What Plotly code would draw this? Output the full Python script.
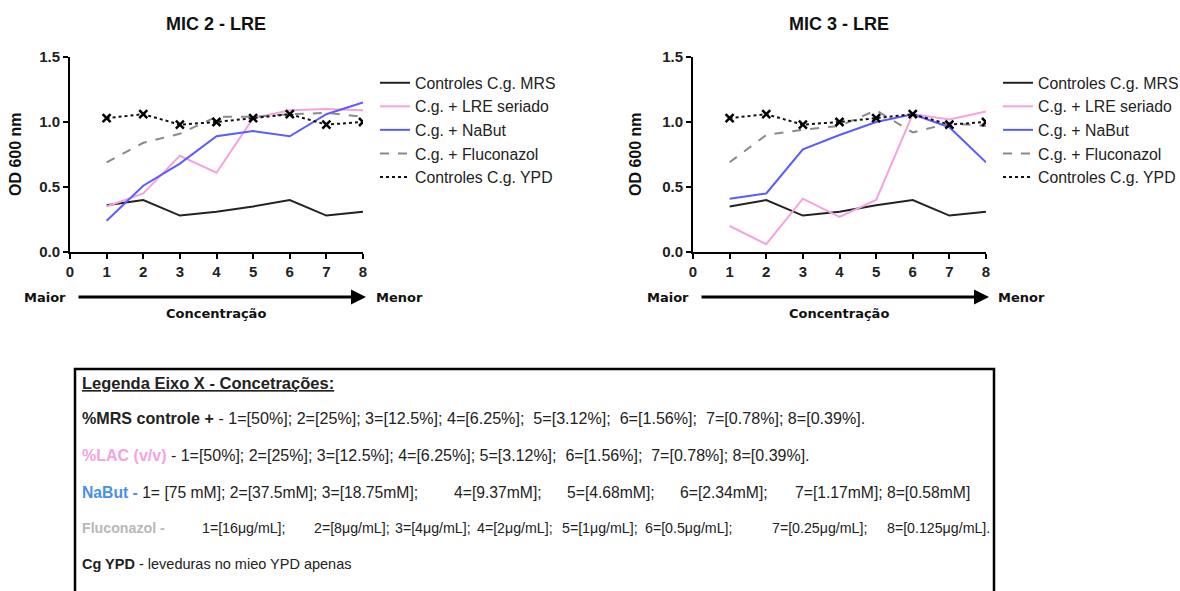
import plotly.graph_objects as go

W, H = 1180, 591

conc = [1, 2, 3, 4, 5, 6, 7, 8]
series_names = ["Controles C.g. MRS", "C.g. + LRE seriado", "C.g. + NaBut",
                "C.g. + Fluconazol", "Controles C.g. YPD"]

# MIC 2 - LRE
mic2_mrs = [0.36, 0.40, 0.28, 0.31, 0.35, 0.40, 0.28, 0.31]
mic2_lre = [0.35, 0.45, 0.74, 0.61, 1.03, 1.09, 1.10, 1.09]
mic2_nabut = [0.24, 0.51, 0.68, 0.89, 0.93, 0.89, 1.06, 1.15]
mic2_fluco = [0.69, 0.84, 0.91, 1.04, 1.04, 1.06, 1.07, 1.04]
mic2_ypd = [1.03, 1.06, 0.98, 1.00, 1.03, 1.06, 0.98, 1.00]

# MIC 3 - LRE
mic3_mrs = [0.35, 0.40, 0.28, 0.31, 0.36, 0.40, 0.28, 0.31]
mic3_lre = [0.20, 0.06, 0.41, 0.27, 0.40, 1.06, 1.02, 1.08]
mic3_nabut = [0.41, 0.45, 0.79, 0.90, 1.00, 1.06, 0.96, 0.69]
mic3_fluco = [0.69, 0.90, 0.94, 0.97, 1.09, 0.92, 0.99, 0.97]
mic3_ypd = [1.03, 1.06, 0.98, 1.00, 1.03, 1.06, 0.98, 1.00]

# X-axis concentration legend texts
nabut_items = ["1= [75 mM]; 2=[37.5mM]; 3=[18.75mM];", "4=[9.37mM];", "5=[4.68mM];",
               "6=[2.34mM];", "7=[1.17mM]; 8=[0.58mM]"]
fluco_items = ["1=[16μg/mL];", "2=[8μg/mL];", "3=[4μg/mL];", "4=[2μg/mL];", "5=[1μg/mL];",
               "6=[0.5μg/mL];", "7=[0.25μg/mL];", "8=[0.125μg/mL]."]

colors = ["#222222", "#f4a3e0", "#5a5cff", "#8a8a8a", "#111111"]
dashes = ["solid", "solid", "solid", "dash", "dot"]

FONT = "Liberation Sans, Arial, sans-serif"

def px(x):
    return x / W

def py(y):
    return 1 - y / H

fig = go.Figure()

panels = [
    ("x", "y", "legend", [mic2_mrs, mic2_lre, mic2_nabut, mic2_fluco, mic2_ypd]),
    ("x2", "y2", "legend2", [mic3_mrs, mic3_lre, mic3_nabut, mic3_fluco, mic3_ypd]),
]

for xa, ya, lg, data in panels:
    for i, (name, vals) in enumerate(zip(series_names, data)):
        fig.add_trace(go.Scatter(
            x=conc, y=vals, mode="lines", name=name,
            line=dict(color=colors[i], width=2, dash=dashes[i]),
            xaxis=xa, yaxis=ya, legend=lg,
        ))
    fig.add_trace(go.Scatter(
        x=conc, y=data[4], mode="markers", showlegend=False,
        marker=dict(symbol="x-thin", size=8, color="black",
                    line=dict(color="black", width=2.5)),
        xaxis=xa, yaxis=ya, hoverinfo="skip",
    ))

axis_common = dict(showline=True, linecolor="black", linewidth=2, ticks="outside",
                   ticklen=5, tickwidth=2, tickcolor="black", showgrid=False,
                   zeroline=False, automargin=False,
                   tickfont=dict(family=FONT, size=15, color="#222", weight="bold"))

yd = [py(252), py(57)]
fig.update_layout(
    width=W, height=H,
    margin=dict(l=0, r=0, t=0, b=0, autoexpand=False),
    paper_bgcolor="white", plot_bgcolor="white",
    xaxis=dict(domain=[px(70), px(363)], range=[0, 8], dtick=1, anchor="y", **axis_common),
    yaxis=dict(domain=yd, range=[0, 1.5], dtick=0.5, tickformat=".1f", anchor="x", **axis_common),
    xaxis2=dict(domain=[px(693), px(986)], range=[0, 8], dtick=1, anchor="y2", **axis_common),
    yaxis2=dict(domain=yd, range=[0, 1.5], dtick=0.5, tickformat=".1f", anchor="x2", **axis_common),
    legend=dict(x=px(375), y=py(66), xanchor="left", yanchor="top", itemwidth=30,
                font=dict(family=FONT, size=15.8, color="#222"), tracegroupgap=0,
                bgcolor="rgba(0,0,0,0)"),
    legend2=dict(x=px(998), y=py(66), xanchor="left", yanchor="top", itemwidth=30,
                 font=dict(family=FONT, size=15.8, color="#222"), tracegroupgap=0,
                 bgcolor="rgba(0,0,0,0)"),
)

ann = []
shapes = []
for cx, label, ax0, ax1, maior_x, menor_x, ytx in [
    (216, "MIC 2 - LRE", 77, 366, 45, 399, 16),
    (839, "MIC 3 - LRE", 700, 989, 668, 1021, 636),
]:
    ann.append(dict(x=px(cx), y=py(24), xref="paper", yref="paper", text=f"<b>{label}</b>",
                    xanchor="center", yanchor="middle",
                    showarrow=False, font=dict(family=FONT, size=18, color="#111")))
    ann.append(dict(x=px(ytx), y=py(154), xref="paper", yref="paper", text="<b>OD 600 nm</b>",
                    xanchor="center", yanchor="middle", textangle=-90,
                    showarrow=False, font=dict(family=FONT, size=16, color="#111")))
    ann.append(dict(x=px(maior_x), y=py(297), xref="paper", yref="paper", text="<b>Maior</b>",
                    xanchor="center", yanchor="middle",
                    showarrow=False, font=dict(family="DejaVu Sans, sans-serif", size=13, color="#111")))
    ann.append(dict(x=px(menor_x), y=py(297), xref="paper", yref="paper", text="<b>Menor</b>",
                    xanchor="center", yanchor="middle",
                    showarrow=False, font=dict(family="DejaVu Sans, sans-serif", size=13, color="#111")))
    ann.append(dict(x=px(cx), y=py(313), xref="paper", yref="paper",
                    xanchor="center", yanchor="middle",
                    text="<b>Concentração</b>", showarrow=False,
                    font=dict(family="DejaVu Sans, sans-serif", size=13, color="#111")))
    ann.append(dict(x=px(ax1), y=py(297), xref="paper", yref="paper", text="",
                    showarrow=True, ax=-(ax1 - ax0), ay=0, arrowhead=2, arrowsize=1,
                    arrowwidth=3, arrowcolor="black"))

# Legend box for x-axis concentrations
shapes.append(dict(type="rect", xref="paper", yref="paper",
                   x0=px(75), x1=px(994), y0=py(369), y1=py(600),
                   line=dict(color="black", width=2.5)))

TF = "Liberation Sans, Arial, sans-serif"
NB = "\u00a0"

def txt(x, y, text, size=15.7):
    ann.append(dict(x=px(x), y=py(y), xref="paper", yref="paper", text=text, showarrow=False,
                    xanchor="left", yanchor="middle", font=dict(family=TF, size=size, color="#222")))

txt(80, 383, "<b><u>Legenda Eixo X - Concetrações:</u></b>", 16.5)
txt(80, 418, "<b>%MRS controle +</b> - 1=[50%]; 2=[25%]; 3=[12.5%]; 4=[6.25%];" + NB * 2 +
    "5=[3.12%];" + NB + " 6=[1.56%];" + NB + " 7=[0.78%]; 8=[0.39%].", 16.1)
txt(80, 455, "<b><span style='color:#f4a3e0'>%LAC (v/v)</span></b> - 1=[50%]; 2=[25%]; 3=[12.5%]; "
    "4=[6.25%]; 5=[3.12%];" + NB + " 6=[1.56%];" + NB + " 7=[0.78%]; 8=[0.39%].", 16.0)
txt(80, 492, "<b><span style='color:#4a8fe8'>NaBut -</span></b> " + nabut_items[0])
for xpos, item in zip([452, 565, 678, 793], nabut_items[1:]):
    txt(xpos, 492, item)
txt(80, 528, "<b><span style='color:#b8b8b8'>Fluconazol -</span></b>", 14.2)
for xpos, item in zip([200, 312, 393, 475, 560, 643, 770, 885], fluco_items):
    txt(xpos, 528, item, 14.2)
txt(80, 564, "<b>Cg YPD</b> - leveduras no mieo YPD apenas", 14.5)

fig.update_layout(annotations=ann, shapes=shapes)

fig.write_html("out.html", config={"displayModeBar": False},
               post_script="document.body.style.margin='0';document.body.style.padding='0';")
